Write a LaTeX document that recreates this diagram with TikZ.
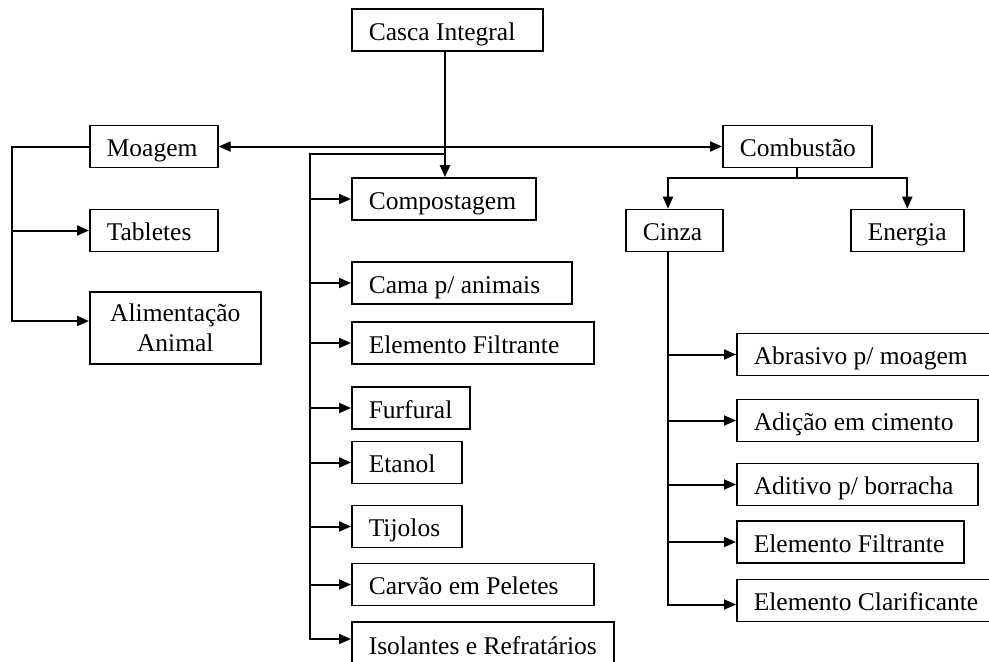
\documentclass[tikz,border=0pt]{standalone}
\usepackage{fontspec}
\setmainfont{Liberation Serif}
\usetikzlibrary{arrows.meta}
\newcommand{\boxtxt}[2]{\makebox[#1][l]{#2}}
\begin{document}
\begin{tikzpicture}[x=1pt,y=-1pt,
  bxbase/.style={draw, line width=1.6pt, inner xsep=17pt, inner ysep=0pt,
    anchor=west, font=\fontsize{25.5}{30}\selectfont, minimum height=42pt},
  bx/.style={bxbase, text height=22pt, text depth=2pt},
  ln/.style={line width=2pt},
  tip/.tip={Triangle[length=12pt,width=10pt]},
  ar/.style={ln, -tip}]
\useasboundingbox (0,0) rectangle (989,662);
% nodes
\node[bx] (casca) at (351,30) {\boxtxt{157pt}{Casca Integral}};
\node[bx] (moagem) at (89,146.5) {\boxtxt{94pt}{Moagem}};
\node[bx] (comb) at (722,146.5) {\boxtxt{115pt}{Combustão}};
\node[bx] (comp) at (351,199) {\boxtxt{150pt}{Compostagem}};
\node[bx] (tab) at (89,230.5) {\boxtxt{94pt}{Tabletes}};
\node[bxbase, text width=137pt, align=center, minimum height=72pt] (alim) at (89,328) {Alimentação\\Animal};
\node[bx] (cinza) at (625,230.5) {\boxtxt{63pt}{Cinza}};
\node[bx] (energia) at (850,230.5) {\boxtxt{79pt}{Energia}};
\node[bx] (cama) at (351,283) {\boxtxt{186pt}{Cama p/ animais}};
\node[bx] (filt1) at (351,343) {\boxtxt{208pt}{Elemento Filtrante}};
\node[bx] (furf) at (351,408) {\boxtxt{84pt}{Furfural}};
\node[bx] (etan) at (351,462.5) {\boxtxt{76pt}{Etanol}};
\node[bx] (tijo) at (351,526.5) {\boxtxt{76pt}{Tijolos}};
\node[bx] (carv) at (351,584.5) {\boxtxt{208pt}{Carvão em Peletes}};
\node[bx, minimum height=44pt] (isol) at (351,644) {\boxtxt{228pt}{Isolantes e Refratários}};
\node[bx] (abra) at (736,354.5) {\boxtxt{240pt}{Abrasivo p/ moagem}};
\node[bx] (adic) at (736,420.5) {\boxtxt{207pt}{Adição em cimento}};
\node[bx] (adit) at (736,484.5) {\boxtxt{207pt}{Aditivo p/ borracha}};
\node[bx] (filt2) at (736,542) {\boxtxt{193pt}{Elemento Filtrante}};
\node[bx] (clar) at (736,600.5) {\boxtxt{240pt}{Elemento Clarificante}};
% helper coordinates
\coordinate (cx) at (445,0);
\coordinate (j1) at (445,154);
\coordinate (t1) at (310,154);
\coordinate (t0) at (12,0);
\coordinate (cb) at (0,178);
\coordinate (cz) at (668,0);
% connectors
\draw[ar] (casca.south -| cx) -- (comp.north -| cx);
\draw[ln, tip-tip] (moagem.east) -- (comb.west);
% left
\draw[ar] (moagem.west) -- (moagem.west -| t0) |- ([yshift=7pt]alim.west);
\draw[ar] (tab.west -| t0) -- (tab.west);
% middle
\draw[ar] (j1) -- (t1) |- ([yshift=5pt]isol.west);
\foreach \n in {comp,cama,filt1,furf,etan,tijo,carv}
  \draw[ar] (t1 |- \n.west) -- (\n.west);
% combustion
\draw[ln] (comb.south) -- (comb.south |- cb);
\draw[ar] (comb.south |- cb) -- (cz |- cb) -- (cz |- cinza.north);
\draw[ar] (comb.south |- cb) -- (energia.north |- cb) -- (energia.north);
% cinza
\draw[ar] (cz |- cinza.south) |- ([yshift=-4pt]clar.west);
\foreach \n in {abra,adic,adit,filt2}
  \draw[ar] (cz |- \n.west) -- (\n.west);
\end{tikzpicture}
\end{document}
